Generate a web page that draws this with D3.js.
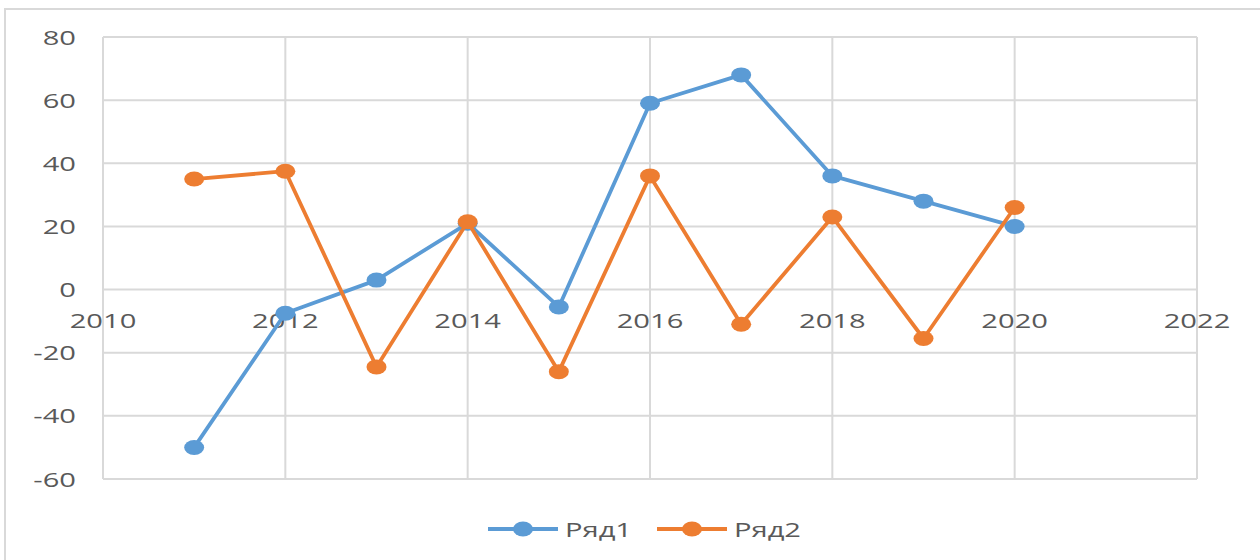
<!DOCTYPE html>
<html>
<head>
<meta charset="utf-8">
<script src="https://cdn.jsdelivr.net/npm/d3@7"></script>
<style>
  body { margin: 0; background: #fff; }
  svg { display: block; }
</style>
</head>
<body>
<script>
(function(){
'use strict';

var years = [2011, 2012, 2013, 2014, 2015, 2016, 2017, 2018, 2019, 2020];
var row1 = [-50, -7.5, 3, 21, -5.5, 59, 68, 36, 28, 20];
var row2 = [35, 37.5, -24.5, 21.5, -26, 36, -11, 23, -15.5, 26];
var seriesNames = ['Ряд1', 'Ряд2'];
var colors = ['#5b9bd5', '#ed7d31'];
var xTicks = [2010, 2012, 2014, 2016, 2018, 2020, 2022];
var yTicks = [-60, -40, -20, 0, 20, 40, 60, 80];

var width = 1260;
var height = 560;
var stretch = 1.42; // the picture is wider than it is tall, text too

var svg = d3.select('body').append('svg')
	.attr('width', width)
	.attr('height', height);

// chart frame
svg.append('rect')
	.attr('x', 5).attr('y', 9)
	.attr('width', width + 10).attr('height', height)
	.attr('fill', '#fff')
	.attr('stroke', '#d9d9d9')
	.attr('stroke-width', 2);

var x = d3.scaleLinear().domain([2010, 2022]).range([103, 1197]);
var y = d3.scaleLinear().domain([-60, 80]).range([479, 37]);

var font = '"Open Sans", sans-serif';
var fontSize = 20.5;

function widen(sel){
	sel.each(function(){
		var w = this.getComputedTextLength();
		d3.select(this)
			.attr('textLength', w * stretch)
			.attr('lengthAdjust', 'spacingAndGlyphs');
	});
}

// grid
svg.append('g').selectAll('line.h')
	.data(yTicks)
	.enter().append('line')
	.attr('x1', x(2010)).attr('x2', x(2022))
	.attr('y1', function(d){ return y(d); })
	.attr('y2', function(d){ return y(d); })
	.attr('stroke', '#d9d9d9')
	.attr('stroke-width', 2);

svg.append('g').selectAll('line.v')
	.data(xTicks)
	.enter().append('line')
	.attr('x1', function(d){ return x(d); })
	.attr('x2', function(d){ return x(d); })
	.attr('y1', y(80)).attr('y2', y(-60))
	.attr('stroke', '#d9d9d9')
	.attr('stroke-width', 2);

// y labels
svg.append('g').selectAll('text')
	.data(yTicks)
	.enter().append('text')
	.attr('x', 76)
	.attr('y', function(d){ return y(d) + 7.5; })
	.attr('text-anchor', 'end')
	.attr('font-family', font)
	.attr('font-size', fontSize)
	.attr('fill', '#595959')
	.text(function(d){ return d; })
	.call(widen);

// x labels sit just under the zero line
svg.append('g').selectAll('text')
	.data(xTicks)
	.enter().append('text')
	.attr('x', function(d){ return x(d); })
	.attr('y', y(0) + 38)
	.attr('text-anchor', 'middle')
	.attr('font-family', font)
	.attr('font-size', fontSize)
	.attr('fill', '#595959')
	.text(function(d){ return d; })
	.call(widen);

var line = d3.line()
	.x(function(d){ return x(d.year); })
	.y(function(d){ return y(d.v); });

[row1, row2].forEach(function(vals, i){
	var pts = vals.map(function(v, j){ return {year: years[j], v: v}; });
	var g = svg.append('g');
	g.append('path')
		.datum(pts)
		.attr('d', line)
		.attr('fill', 'none')
		.attr('stroke', colors[i])
		.attr('stroke-width', 3.8)
		.attr('stroke-linejoin', 'round');
	g.selectAll('ellipse')
		.data(pts)
		.enter().append('ellipse')
		.attr('cx', function(d){ return x(d.year); })
		.attr('cy', function(d){ return y(d.v); })
		.attr('rx', 10).attr('ry', 7.5)
		.attr('fill', colors[i]);
});

// legend
var legendX = [488, 657];
seriesNames.forEach(function(name, i){
	var lg = svg.append('g').attr('transform', 'translate(' + legendX[i] + ',529)');
	lg.append('line')
		.attr('x1', 0).attr('x2', 70)
		.attr('y1', 0).attr('y2', 0)
		.attr('stroke', colors[i])
		.attr('stroke-width', 3.8);
	lg.append('ellipse')
		.attr('cx', 35).attr('cy', 0)
		.attr('rx', 10).attr('ry', 7.5)
		.attr('fill', colors[i]);
	lg.append('text')
		.attr('x', 77).attr('y', 7.5)
		.attr('font-family', font)
		.attr('font-size', fontSize)
		.attr('fill', '#595959')
		.text(name)
		.call(widen);
});

})();
</script>
</body>
</html>
